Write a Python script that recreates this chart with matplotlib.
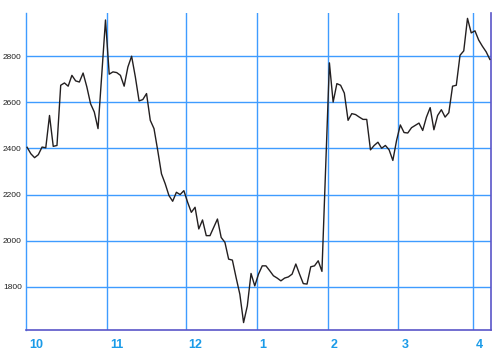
import matplotlib
matplotlib.use("Agg")
import matplotlib.pyplot as plt
import matplotlib.transforms as mtransforms
import numpy as np

# ---- data ----
month_labels = ["10", "11", "12", "1", "2", "3", "4"]
days_per_month = [22, 21, 19, 19, 19, 20, 5]
values = [
    # Oct
    2405, 2377, 2360, 2373, 2406, 2403, 2543, 2409, 2413, 2674,
    2684, 2670, 2717, 2693, 2688, 2727, 2667, 2594, 2558, 2486,
    2720, 2957,
    # Nov
    2722, 2732, 2729, 2717, 2670, 2753, 2800, 2710, 2606, 2612,
    2638, 2522, 2486, 2391, 2290, 2247, 2196, 2171, 2210, 2200,
    2217,
    # Dec
    2167, 2123, 2145, 2051, 2090, 2022, 2022, 2058, 2094, 2014,
    1993, 1920, 1916, 1840, 1768, 1645, 1717, 1858, 1804,
    # Jan
    1855, 1891, 1891, 1870, 1848, 1838, 1826, 1838, 1843, 1855,
    1899, 1855, 1814, 1812, 1887, 1891, 1913, 1867, 2319,
    # Feb
    2771, 2601, 2681, 2674, 2640, 2522, 2551, 2547, 2536, 2526,
    2526, 2394, 2413, 2427, 2401, 2413, 2394, 2348, 2435,
    # Mar
    2502, 2469, 2467, 2490, 2500, 2510, 2478, 2536, 2577, 2481,
    2543, 2568, 2536, 2555, 2670, 2674, 2804, 2823, 2964, 2901,
    # Apr
    2910, 2870, 2843, 2819, 2786,
]
y_ticks = [1800, 2000, 2200, 2400, 2600, 2800]

# ---- plot ----
grid_blue = "#3f9cff"
frame_col = "#5a55c8"
label_blue = "#1a9be8"

fig = plt.figure(figsize=(5.0, 3.63), dpi=100)
ax = fig.add_axes([0.052, 0.091, 0.930, 0.873])

x = np.arange(len(values))
ax.plot(x, values, color="#231f20", lw=1.0, zorder=3)

starts = np.concatenate([[0], np.cumsum(days_per_month)[:-1]]) - 0.5
ax.set_xlim(-0.3, len(values) - 0.7)
ax.set_ylim(1613, 2987)

for s in starts[1:]:
    ax.axvline(s, color=grid_blue, lw=1.0, zorder=1)
for yt in y_ticks:
    ax.axhline(yt, color=grid_blue, lw=1.0, zorder=1)

ax.set_xticks([])
ax.set_yticks(y_ticks)
ax.set_yticklabels([str(v) for v in y_ticks], fontsize=6,
                   family="Liberation Sans", color="#222222")
ax.tick_params(axis="y", length=0, pad=3)

ax.spines["top"].set_visible(False)
ax.spines["left"].set_color(grid_blue)
ax.spines["left"].set_linewidth(1.0)
ax.spines["bottom"].set_color(frame_col)
ax.spines["bottom"].set_linewidth(1.2)
ax.spines["right"].set_color(frame_col)
ax.spines["right"].set_linewidth(1.2)

trans = mtransforms.blended_transform_factory(ax.transData, ax.transAxes)
offset = mtransforms.ScaledTranslation(3 / 100, 0, fig.dpi_scale_trans)
for i, (s, lab) in enumerate(zip(starts, month_labels)):
    xs = max(s, -0.3)
    ax.text(xs, -0.047, lab, transform=trans + offset, ha="left", va="center",
            fontsize=9, fontweight="bold", family="Liberation Sans",
            color=label_blue)

fig.savefig("out.png", dpi=100)
